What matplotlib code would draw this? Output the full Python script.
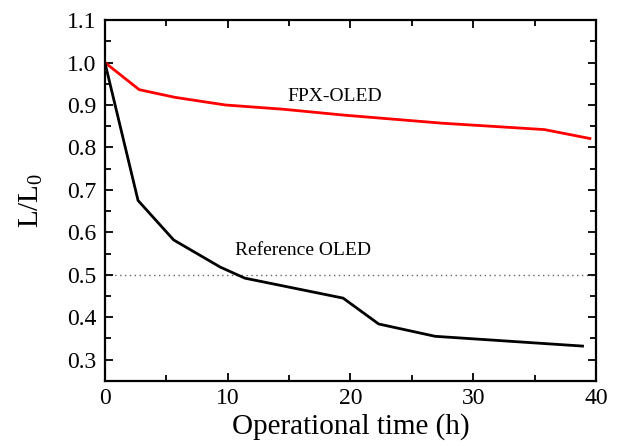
import matplotlib
matplotlib.use("Agg")
import matplotlib.pyplot as plt
from matplotlib.ticker import MultipleLocator

plt.rcParams['font.family'] = ['Liberation Serif', 'DejaVu Serif']
plt.rcParams['mathtext.fontset'] = 'custom'
plt.rcParams['mathtext.rm'] = 'Liberation Serif'

fpx_time = [0, 2.8, 5.7, 9.8, 14.5, 19.5, 27.5, 35.8, 39.5]
fpx_lum = [1.0, 0.936, 0.918, 0.900, 0.890, 0.876, 0.857, 0.842, 0.821]

ref_time = [0, 2.7, 5.6, 9.4, 11.4, 19.4, 22.3, 26.9, 38.9]
ref_lum = [1.0, 0.675, 0.582, 0.518, 0.492, 0.445, 0.384, 0.355, 0.332]

half_level = 0.5

fig = plt.figure(figsize=(6.17, 4.46), dpi=100)
ax = fig.add_axes([0.170, 0.146, 0.796, 0.809])

ax.axhline(half_level, color='#666666', linestyle=(0, (1, 2.5)), linewidth=1.0, zorder=1)
ax.plot(fpx_time, fpx_lum, color='#ff0000', linewidth=2.0, zorder=3)
ax.plot(ref_time, ref_lum, color='black', linewidth=2.0, zorder=3)

ax.text(18.7, 0.92, 'FPX-OLED', ha='center', va='center', fontsize=14)
ax.text(16.1, 0.557, 'Reference OLED', ha='center', va='center', fontsize=14)

ax.set_xlim(0, 40)
ax.set_ylim(0.25, 1.1)
ax.xaxis.set_major_locator(MultipleLocator(10))
ax.xaxis.set_minor_locator(MultipleLocator(5))
ax.yaxis.set_major_locator(MultipleLocator(0.1))
ax.yaxis.set_minor_locator(MultipleLocator(0.05))
ax.yaxis.set_major_formatter(matplotlib.ticker.FormatStrFormatter('%.1f'))

ax.tick_params(which='both', direction='in', top=True, right=True, width=1.3, labelsize=17)
ax.tick_params(which='major', length=6, pad=6)
ax.tick_params(axis='x', which='major', pad=5)
ax.tick_params(which='minor', length=4)
for s in ax.spines.values():
    s.set_linewidth(1.6)

ax.set_xlabel('Operational time (h)', fontsize=21, labelpad=3)
ax.set_ylabel(r'L/L$_0$', fontsize=21, labelpad=16)

fig.savefig('out.png', dpi=100)
